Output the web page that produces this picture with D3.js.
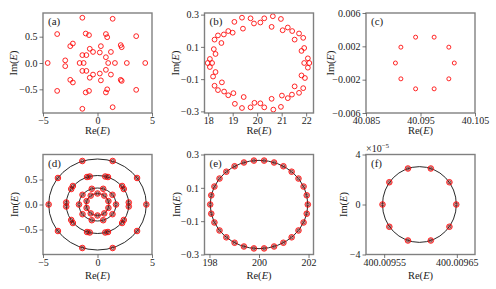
<!DOCTYPE html>
<html>
<head>
<meta charset="utf-8">
<script src="https://cdn.jsdelivr.net/npm/d3@7"></script>
<style>
  body { margin: 0; background: #fff; }
  text { font-family: "Liberation Serif", "DejaVu Serif", serif; fill: #222; }
</style>
</head>
<body>
<div id="chart"></div>
<script>
// ---- data ----

// (a) numerical spectrum, small system
const ptsA = [
  [-1.39, 0.86], [1.39, 0.84], [-3.7, 0.55], [-1.08, 0.56], [-0.78, 0.53], [0.77, 0.55],
  [0.89, 0.49], [3.55, 0.51], [-2.26, 0.37], [-2.5, 0.32], [-0.71, 0.27], [-0.41, 0.21],
  [0.31, 0.32], [0.21, 0.2], [1.23, 0.21], [2.13, 0.34], [2.22, 0.3], [-1.39, 0.15],
  [-1.02, 0.15], [0.77, 0.11],
  [-4.57, 0], [-1.64, 0], [-1.27, 0], [0.98, 0], [1.6, 0], [2.69, 0], [4.38, 0],
  [-2.96, 0.05], [-2.96, -0.06],
  [-1.39, -0.87], [1.39, -0.84], [-3.7, -0.53], [-1.08, -0.56], [-0.78, -0.53], [0.77, -0.56],
  [0.89, -0.5], [3.55, -0.51], [-2.5, -0.32], [-2.26, -0.37], [-0.71, -0.28], [-0.41, -0.22],
  [0.31, -0.33], [0.21, -0.2], [1.23, -0.22], [2.13, -0.32], [2.22, -0.34], [-1.39, -0.15],
  [-1.02, -0.15], [0.77, -0.13]
];

// (b)
const ptsB = [
  [18.23, 0.086], [18.3, 0.056], [18.26, 0.145], [18.4, 0.171], [18.54, 0.124], [18.64, 0.177],
  [18.82, 0.198], [19.0, 0.188], [19.07, 0.255], [19.38, 0.281], [19.42, 0.213], [19.73, 0.277],
  [19.87, 0.245], [20.13, 0.251], [20.29, 0.277], [20.59, 0.224], [20.64, 0.29], [20.97, 0.273],
  [21.04, 0.203], [21.25, 0.22], [21.43, 0.198], [21.71, 0.183], [21.53, 0.145], [21.88, 0.156],
  [21.92, 0.093], [21.81, 0.075], [22.07, 0.029],
  [17.98, 0], [18.16, 0], [18.07, 0.025], [18.07, -0.025], [21.92, 0], [22.13, 0], [22.07, -0.029],
  [18.2, -0.084], [18.3, -0.056], [18.26, -0.141], [18.4, -0.168], [18.56, -0.12], [18.65, -0.177],
  [18.82, -0.2], [19.03, -0.187], [19.09, -0.253], [19.38, -0.279], [19.45, -0.211], [19.73, -0.275],
  [19.89, -0.247], [20.13, -0.25], [20.29, -0.275], [20.59, -0.222], [20.66, -0.289], [20.97, -0.272],
  [21.01, -0.202], [21.25, -0.218], [21.42, -0.196], [21.71, -0.185], [21.53, -0.145], [21.88, -0.156],
  [21.81, -0.077], [21.95, -0.093]
];

// (c)
const ptsC = [
  [40.1012, 0], [40.1002, 0.0019], [40.0975, 0.0031], [40.0941, 0.0031], [40.0914, 0.0019],
  [40.0904, 0], [40.0914, -0.0019], [40.0941, -0.0031], [40.0975, -0.0031], [40.1002, -0.0019]
];

// (d) numerical points + analytic rings
const ptsD = [
  [4.48, 0], [3.63, 0.53], [1.39, 0.87], [-1.39, 0.87], [-3.63, 0.53],
  [-4.48, 0], [-3.63, -0.53], [-1.39, -0.87], [1.39, -0.87], [3.63, -0.53],
  [-2.87, 0.04], [-2.87, -0.04], [-2.41, 0.31], [-2.26, 0.37], [-0.96, 0.55], [-0.71, 0.56],
  [0.71, 0.56], [0.96, 0.55], [2.26, 0.37], [2.41, 0.31], [2.87, 0.04], [2.87, -0.04],
  [-2.41, -0.31], [-2.26, -0.37], [-0.96, -0.55], [-0.71, -0.56], [0.71, -0.56], [0.96, -0.55],
  [2.26, -0.37], [2.41, -0.31],
  [1.7, 0], [1.375, 0.194], [0.525, 0.314], [-0.525, 0.314], [-1.375, 0.194],
  [-1.7, 0], [-1.375, -0.194], [-0.525, -0.314], [0.525, -0.314], [1.375, -0.194],
  [1.0, 0.068], [0.62, 0.178], [0, 0.22], [-0.62, 0.178], [-1.0, 0.068],
  [-1.0, -0.068], [-0.62, -0.178], [0, -0.22], [0.62, -0.178], [1.0, -0.068]
];
const ringsD = [
  { cx: 0, cy: 0, rx: 4.48, ry: 0.91 },
  { cx: 0, cy: 0, rx: 2.87, ry: 0.58 },
  { cx: 0, cy: 0, rx: 1.7, ry: 0.33 },
  { cx: 0, cy: 0, rx: 1.05, ry: 0.22 }
];

// (e)
const ptsE = [
  [201.97, 0], [201.927, 0.0551], [201.8, 0.1078], [201.594, 0.1558], [201.318, 0.1969],
  [200.985, 0.2295], [200.609, 0.252], [200.206, 0.2635], [199.794, 0.2635], [199.391, 0.252],
  [199.015, 0.2295], [198.682, 0.1969], [198.406, 0.1558], [198.2, 0.1078], [198.073, 0.0551],
  [198.03, 0], [198.073, -0.0551], [198.2, -0.1078], [198.406, -0.1558], [198.682, -0.1969],
  [199.015, -0.2295], [199.391, -0.252], [199.794, -0.2635], [200.206, -0.2635], [200.609, -0.252],
  [200.985, -0.2295], [201.318, -0.1969], [201.594, -0.1558], [201.8, -0.1078], [201.927, -0.0551]
];
const ringsE = [{ cx: 200, cy: 0, rx: 1.97, ry: 0.265 }];

// (f)  Im(E) in units of 1e-5
const ptsF = [
  [400.0096492, 0], [400.0096398, 1.78], [400.0096142, 2.88], [400.0095827, 2.88], [400.0095571, 1.78],
  [400.0095477, 0], [400.0095571, -1.78], [400.0095827, -2.88], [400.0096142, -2.88], [400.0096398, -1.78]
];
const ringsF = [{ cx: 400.0095985, cy: 0, rx: 0.0000508, ry: 3.03 }];

// axis ranges, ticks and tick labels
const xDomA = [-5, 5], yDomA = [-0.95, 0.95];
const xDomB = [17.85, 22.3], yDomB = [-0.31, 0.31];
const xDomC = [40.085, 40.105], yDomC = [-0.006, 0.006];
const xDomD = [-5, 5], yDomD = [-1.0, 1.0];
const xDomE = [197.8, 202.2], yDomE = [-0.3, 0.3];
const xDomF = [400.009525, 400.009675], yDomF = [-4, 4];

const xTicksA = [-5, 0, 5], xLabelsA = ["−5", "0", "5"];
const yTicksA = [-0.5, 0, 0.5], yLabelsA = ["−0.5", "0.0", "0.5"];
const xTicksB = [18, 19, 20, 21, 22], xLabelsB = ["18", "19", "20", "21", "22"];
const yTicksB = [-0.3, -0.1, 0.1, 0.3], yLabelsB = ["−0.3", "−0.1", "0.1", "0.3"];
const xTicksC = [40.085, 40.095, 40.105], xLabelsC = ["40.085", "40.095", "40.105"];
const yTicksC = [-0.006, -0.002, 0.002, 0.006], yLabelsC = ["−0.006", "−0.002", "0.002", "0.006"];
const xTicksE = [198, 200, 202], xLabelsE = ["198", "200", "202"];
const xTicksF = [400.00955, 400.00965], xLabelsF = ["400.00955", "400.00965"];
const yTicksF = [-4, 0, 4], yLabelsF = ["−4", "0", "4"];

const panelNames = ["(a)", "(b)", "(c)", "(d)", "(e)", "(f)"];

// ---- layout ----
const W = 496, H = 289;
const colLeft = [43, 204.5, 366];
const rowTop = [13, 154.5];
const pw = 109, ph = 100;

const svg = d3
  .select("#chart")
  .append("svg")
  .attr("width", W)
  .attr("height", H);

const panels = [
  { pts: ptsA, xDom: xDomA, yDom: yDomA, xt: xTicksA, xl: xLabelsA, yt: yTicksA, yl: yLabelsA, r: 2.4, imOff: -30 },
  { pts: ptsB, xDom: xDomB, yDom: yDomB, xt: xTicksB, xl: xLabelsB, yt: yTicksB, yl: yLabelsB, r: 2.4, imOff: -29.5 },
  { pts: ptsC, xDom: xDomC, yDom: yDomC, xt: xTicksC, xl: xLabelsC, yt: yTicksC, yl: yLabelsC, r: 2, imOff: -36 },
  { pts: ptsD, rings: ringsD, xDom: xDomD, yDom: yDomD, xt: xTicksA, xl: xLabelsA, yt: yTicksA, yl: yLabelsA, r: 2.8, imOff: -29 },
  { pts: ptsE, rings: ringsE, xDom: xDomE, yDom: yDomE, xt: xTicksE, xl: xLabelsE, yt: yTicksB, yl: yLabelsB, r: 2.8, imOff: -28.5 },
  { pts: ptsF, rings: ringsF, xDom: xDomF, yDom: yDomF, xt: xTicksF, xl: xLabelsF, yt: yTicksF, yl: yLabelsF, r: 2.8, imOff: -23, mult: true }
];

panels.forEach((p, i) => {
  const row = Math.floor(i / 3), col = i % 3;
  const g = svg
    .append("g")
    .attr("transform", `translate(${colLeft[col]},${rowTop[row]})`);

  const x = d3.scaleLinear().domain(p.xDom).range([0, pw]);
  const y = d3.scaleLinear().domain(p.yDom).range([ph, 0]);

  // analytic curves
  if (p.rings) {
    g.selectAll("ellipse")
      .data(p.rings)
      .join("ellipse")
      .attr("cx", (d) => x(d.cx))
      .attr("cy", (d) => y(d.cy))
      .attr("rx", (d) => x(d.cx + d.rx) - x(d.cx))
      .attr("ry", (d) => y(d.cy) - y(d.cy + d.ry))
      .attr("fill", "none")
      .attr("stroke", "#111")
      .attr("stroke-width", 0.9);
  }

  // numerical eigenvalues
  g.selectAll("circle.num")
    .data(p.pts)
    .join("circle")
    .attr("class", "num")
    .attr("cx", (d) => x(d[0]))
    .attr("cy", (d) => y(d[1]))
    .attr("r", p.r)
    .attr("fill", p.rings ? "rgba(255,0,0,0.3)" : "none")
    .attr("stroke", "#ff0000")
    .attr("stroke-width", 0.85);

  if (p.rings) {
    g.selectAll("circle.ana")
      .data(p.pts)
      .join("circle")
      .attr("class", "ana")
      .attr("cx", (d) => x(d[0]))
      .attr("cy", (d) => y(d[1]))
      .attr("r", 1.5)
      .attr("fill", "none")
      .attr("stroke", "#222")
      .attr("stroke-width", 0.6);
  }

  // frame
  g.append("rect")
    .attr("width", pw)
    .attr("height", ph)
    .attr("fill", "none")
    .attr("stroke", "#808080")
    .attr("stroke-width", 1.4);

  const xAxis = g
    .append("g")
    .attr("transform", `translate(0,${ph})`)
    .call(
      d3.axisBottom(x)
        .tickValues(p.xt)
        .tickFormat((d, k) => p.xl[k])
        .tickSize(3.5)
        .tickPadding(0.5)
    );
  const yAxis = g.append("g").call(
    d3.axisLeft(y)
      .tickValues(p.yt)
      .tickFormat((d, k) => p.yl[k])
      .tickSize(3.5)
      .tickPadding(2)
  );
  [xAxis, yAxis].forEach((a) => {
    a.select(".domain").remove();
    a.selectAll(".tick line").attr("stroke", "#555").attr("stroke-width", 0.8);
    a.selectAll(".tick text")
      .attr("fill", "#222")
      .style("font-family", '"Liberation Serif", serif')
      .style("font-size", "10px");
  });

  // panel tag
  g.append("text")
    .attr("x", 5)
    .attr("y", 12)
    .style("font-size", "11px")
    .text(panelNames[i]);

  // axis titles
  const re = g
    .append("text")
    .attr("x", pw / 2)
    .attr("y", ph + (row === 0 ? 21 : 24))
    .attr("text-anchor", "middle")
    .style("font-size", "10.5px");
  re.append("tspan").text("Re(");
  re.append("tspan").style("font-style", "italic").text("E");
  re.append("tspan").text(")");

  const im = g
    .append("text")
    .attr("transform", `translate(${p.imOff + 3.5},${ph / 2}) rotate(-90)`)
    .attr("text-anchor", "middle")
    .style("font-size", "10.5px");
  im.append("tspan").text("Im(");
  im.append("tspan").style("font-style", "italic").text("E");
  im.append("tspan").text(")");

  if (p.mult) {
    const m = g.append("text").attr("x", 0).attr("y", -3).style("font-size", "10px");
    m.append("tspan").text("×10");
    m.append("tspan").attr("dy", -4).style("font-size", "7px").text("−5");
  }
});
</script>
</body>
</html>
